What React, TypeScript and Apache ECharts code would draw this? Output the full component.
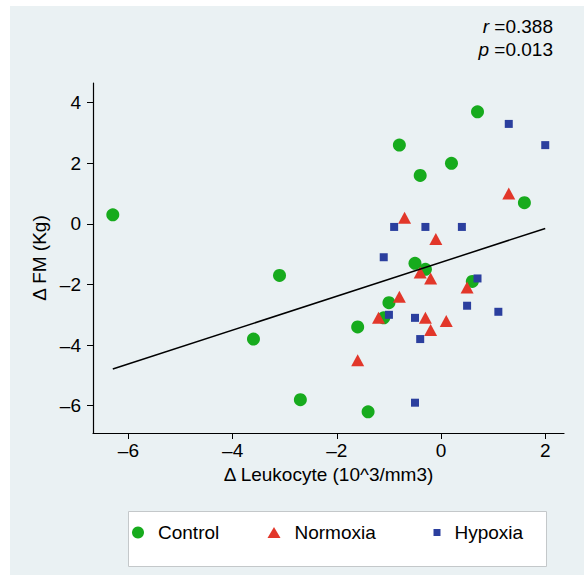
import React, { useEffect, useRef } from "react";
import * as echarts from "echarts";

const xTicks = [-6, -4, -2, 0, 2];
const yTicks = [-6, -4, -2, 0, 2, 4];

const controlData: [number, number][] = [
  [-6.3, 0.3], [-3.1, -1.7], [-3.6, -3.8], [-2.7, -5.8], [-1.6, -3.4], [-1.4, -6.2],
  [-1.0, -2.6], [-1.1, -3.1], [0.6, -1.9], [0.7, 3.7], [-0.8, 2.6], [0.2, 2.0],
  [-0.4, 1.6], [1.6, 0.7], [-0.5, -1.3], [-0.3, -1.5],
];
const normoxiaData: [number, number][] = [
  [-0.7, 0.2], [-0.1, -0.5], [1.3, 1.0], [-0.4, -1.6], [-0.2, -1.8], [-0.8, -2.4],
  [-1.2, -3.1], [-0.3, -3.1], [0.1, -3.2], [-0.2, -3.5], [-1.6, -4.5], [0.5, -2.1],
];
const hypoxiaData: [number, number][] = [
  [1.3, 3.3], [2.0, 2.6], [-0.9, -0.1], [-0.3, -0.1], [0.4, -0.1], [-1.1, -1.1],
  [0.7, -1.8], [0.5, -2.7], [1.1, -2.9], [-1.0, -3.0], [-0.5, -3.1], [-0.4, -3.8],
  [-0.5, -5.9],
];
const fitLine: [number, number][] = [[-6.3, -4.79], [2.0, -0.15]];

const FONT = "Liberation Sans, Arial, Helvetica, sans-serif";
const FS = 19;
const GREEN = "#17ab1d";
const RED = "#e2372a";
const BLUE = "#2b3f9e";
const BG = "#eaf1f3";

const fmt = (v: number) => (v < 0 ? "\u2013" + Math.abs(v) : String(v));

export default function App() {
  const ref = useRef<HTMLDivElement>(null);
  useEffect(() => {
    if (!ref.current) return;
    const chart = echarts.init(ref.current, undefined, { renderer: "svg" });
    const legendCommon = {
      top: 523,
      padding: 0,
      orient: "horizontal" as const,
      textStyle: { fontSize: FS, color: "#000", fontFamily: FONT, padding: [0, 0, 0, 9] },
      selectedMode: false,
    };
    chart.setOption({
      animation: false,
      backgroundColor: "#ffffff",
      textStyle: { fontFamily: FONT },
      graphic: [
        { type: "rect", z: -10, shape: { x: 10, y: 6, width: 574, height: 569 }, style: { fill: BG } },
        {
          type: "rect", z: -5,
          shape: { x: 128.5, y: 511.5, width: 418, height: 55 },
          style: { fill: "#ffffff", stroke: "#c4c8ca", lineWidth: 1 },
        },
        {
          type: "text", right: 31, top: 17,
          style: {
            text: "{i|r} =0.388",
            rich: { i: { fontStyle: "italic", fontSize: FS, fontFamily: FONT, fill: "#000" } },
            fontSize: FS, fontFamily: FONT, fill: "#000", textAlign: "right",
          },
        },
        {
          type: "text", right: 31, top: 40,
          style: {
            text: "{i|p} =0.013",
            rich: { i: { fontStyle: "italic", fontSize: FS, fontFamily: FONT, fill: "#000" } },
            fontSize: FS, fontFamily: FONT, fill: "#000", textAlign: "right",
          },
        },
      ],
      grid: { left: 93, right: 20, top: 83, bottom: 142, containLabel: false },
      xAxis: {
        type: "value", min: -6.68, max: 2.36,
        name: "\u0394 Leukocyte (10^3/mm3)", nameLocation: "middle", nameGap: 30,
        nameTextStyle: { fontSize: FS, color: "#000", fontFamily: FONT },
        axisLine: { show: true, onZero: false, lineStyle: { color: "#000", width: 1.2 } },
        axisTick: { show: true, customValues: xTicks, length: 6, lineStyle: { color: "#000" } },
        axisLabel: { customValues: xTicks, formatter: fmt, fontSize: FS, color: "#000", margin: 8, fontFamily: FONT },
        splitLine: { show: false },
      },
      yAxis: {
        type: "value", min: -6.9, max: 4.65,
        name: "\u0394 FM (Kg)", nameLocation: "middle", nameGap: 39, nameRotate: 90,
        nameTextStyle: { fontSize: FS, color: "#000", fontFamily: FONT },
        axisLine: { show: true, onZero: false, lineStyle: { color: "#000", width: 1.2 } },
        axisTick: { show: true, customValues: yTicks, length: 6, lineStyle: { color: "#000" } },
        axisLabel: { customValues: yTicks, formatter: fmt, fontSize: FS, color: "#000", margin: 12, fontFamily: FONT },
        splitLine: { show: false },
      },
      legend: [
        { ...legendCommon, left: 132, itemWidth: 12, itemHeight: 12, data: [{ name: "Control", icon: "circle" }] },
        { ...legendCommon, left: 267.5, itemWidth: 13, itemHeight: 11, data: [{ name: "Normoxia", icon: "triangle" }] },
        { ...legendCommon, left: 433.5, itemWidth: 7, itemHeight: 7, data: [{ name: "Hypoxia", icon: "rect" }] },
      ],
      series: [
        {
          name: "Control", type: "scatter", data: controlData, symbol: "circle", symbolSize: 13,
          itemStyle: { color: GREEN, opacity: 1 },
        },
        {
          name: "Normoxia", type: "scatter", data: normoxiaData, symbol: "triangle", symbolSize: [13, 12],
          itemStyle: { color: RED, opacity: 1 },
        },
        {
          name: "Hypoxia", type: "scatter", data: hypoxiaData, symbol: "rect", symbolSize: 8,
          itemStyle: { color: BLUE, opacity: 1 },
        },
        {
          name: "fit", type: "line", data: fitLine, symbol: "none", showSymbol: false,
          lineStyle: { color: "#000", width: 1.5 }, z: 3,
        },
      ],
    });
    return () => chart.dispose();
  }, []);
  return (
    <div
      ref={ref}
      style={{ position: "fixed", left: 0, top: 0, width: 584, height: 575 }}
    />
  );
}
